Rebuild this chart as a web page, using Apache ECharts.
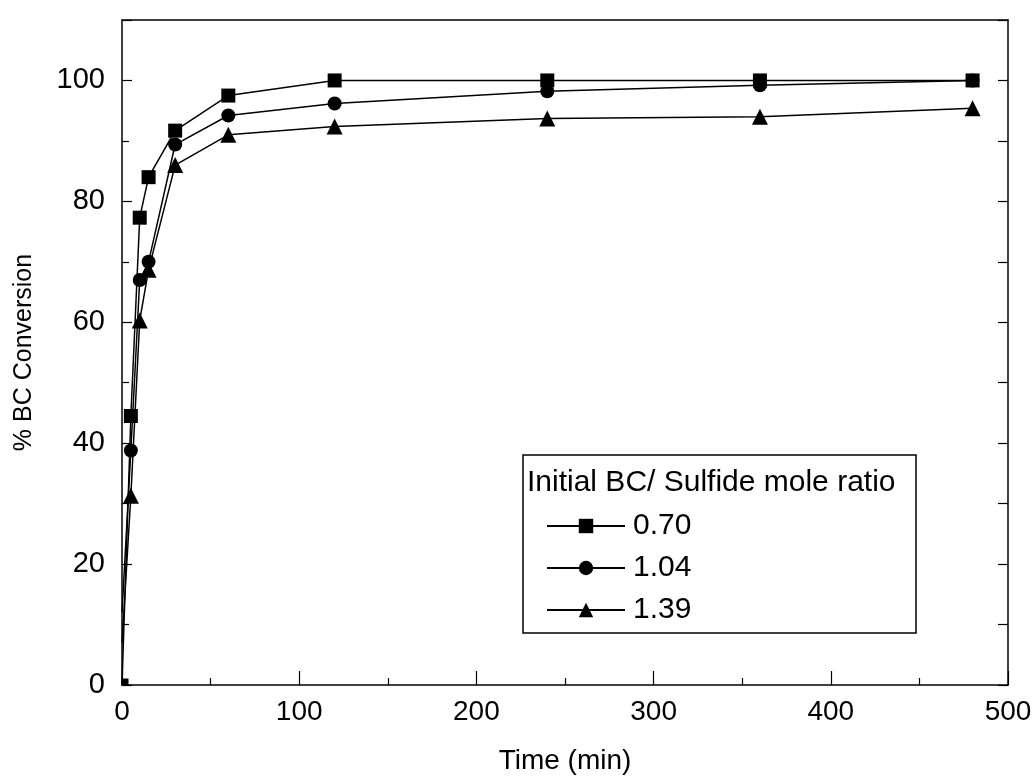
<!DOCTYPE html>
<html><head><meta charset="utf-8">
<script src="https://cdn.jsdelivr.net/npm/echarts@6/dist/echarts.min.js"></script>
<style>html,body{margin:0;padding:0;background:#fff}#c{width:1035px;height:780px}</style>
</head><body><div id="c"></div>
<script>
const legendTitle = 'Initial BC/ Sulfide mole ratio';
const seriesNames = ['0.70', '1.04', '1.39'];
const symbols = ['rect', 'circle', 'triangle'];
const time_070 = [0, 5, 10, 15, 30, 60, 120, 240, 360, 480];
const conv_070 = [0, 44.5, 77.3, 84, 91.7, 97.5, 100, 100, 100, 100];
const time_104 = [0, 5, 10, 15, 30, 60, 120, 240, 360, 480];
const conv_104 = [12, 38.8, 67, 70, 89.4, 94.2, 96.2, 98.2, 99.2, 100];
const time_139 = [0, 5, 10, 15, 30, 60, 120, 240, 360, 480];
const conv_139 = [7, 31.3, 60.3, 68.7, 86, 91, 92.4, 93.7, 94, 95.4];
const xTicks = [0, 100, 200, 300, 400, 500];
const yTicks = [0, 20, 40, 60, 80, 100];

const sizes = [14, 14, 16];
// markers at t = 0 sit on the axis and are clipped in the original
const build = (t, v, i) => t.map((x, k) => x === 0
  ? {value: [x, v[k]], symbol: i === 0 ? 'rect' : 'none', symbolSize: 7, symbolOffset: [3, -3]}
  : [x, v[k]]);
const dataSets = [build(time_070, conv_070, 0), build(time_104, conv_104, 1), build(time_139, conv_139, 2)];

const chart = echarts.init(document.getElementById('c'));
const reg = 'Liberation Sans, Arial';
chart.setOption({
  animation: false,
  grid: {left: 122, right: 27, top: 20, bottom: 95, show: false},
  xAxis: [
    {
      type: 'value', min: 0, max: 500, interval: 100,
      axisLine: {show: true, onZero: false, lineStyle: {color: '#000', width: 1.5}},
      axisTick: {show: true, inside: true, length: 14, lineStyle: {color: '#000', width: 1.2}},
      minorTick: {show: true, splitNumber: 2, length: 7, lineStyle: {color: '#000', width: 1.2}},
      splitLine: {show: false},
      name: 'Time (min)', nameLocation: 'middle', nameGap: 62,
      nameTextStyle: {fontFamily: reg, fontSize: 28, color: '#000'},
      axisLabel: {fontFamily: reg, fontSize: 28, color: '#000', margin: 13,
        formatter: v => xTicks.includes(v) ? String(v) : ''}
    },
    {type: 'value', position: 'top', min: 0, max: 500, interval: 100,
      axisLine: {show: true, onZero: false, lineStyle: {color: '#000', width: 1.5}},
      axisTick: {show: false}, axisLabel: {show: false}, splitLine: {show: false}}
  ],
  yAxis: [
    {
      type: 'value', min: 0, max: 110, interval: 20,
      axisLine: {show: true, onZero: false, lineStyle: {color: '#000', width: 1.5}},
      axisTick: {show: true, inside: true, length: 10, lineStyle: {color: '#000', width: 1.2}},
      minorTick: {show: true, splitNumber: 2, length: 7, lineStyle: {color: '#000', width: 1.2}},
      splitLine: {show: false},
      name: '% BC Conversion', nameLocation: 'middle', nameGap: 85, nameRotate: 90,
      nameTextStyle: {fontFamily: reg, fontSize: 25, color: '#000'},
      axisLabel: {fontFamily: reg, fontSize: 29, color: '#000', margin: 17, showMaxLabel: false,
        formatter: v => yTicks.includes(v) ? String(v) : ''}
    },
    {
      type: 'value', position: 'right', min: 0, max: 110, interval: 20,
      axisLine: {show: true, onZero: false, lineStyle: {color: '#000', width: 1.5}},
      axisTick: {show: true, inside: true, length: 10, lineStyle: {color: '#000', width: 1.2}},
      minorTick: {show: true, splitNumber: 2, length: 10, lineStyle: {color: '#000', width: 1.2}},
      splitLine: {show: false},
      axisLabel: {show: false}
    }
  ],
  legend: {
    orient: 'vertical', left: 546, top: 511, itemWidth: 78, itemHeight: 18, itemGap: 12,
    padding: 0,
    textStyle: {fontFamily: reg, fontSize: 30, color: '#000', padding: [0, 0, 0, 3]},
    data: seriesNames
  },
  graphic: [
    {type: 'rect', shape: {x: 523, y: 455, width: 393, height: 178},
      style: {fill: null, stroke: '#000', lineWidth: 1.5}, z: 10},
    {type: 'text', x: 527, y: 483,
      style: {text: legendTitle, fontFamily: reg, fontSize: 30, fill: '#000', textVerticalAlign: 'middle'}, z: 10}
  ],
  series: seriesNames.map((n, i) => ({
    name: n, type: 'line', data: dataSets[i], symbol: symbols[i], symbolSize: sizes[i],
    lineStyle: {color: '#000', width: 1.5}, itemStyle: {color: '#000'},
    clip: true, showAllSymbol: true
  }))
});
</script></body></html>
